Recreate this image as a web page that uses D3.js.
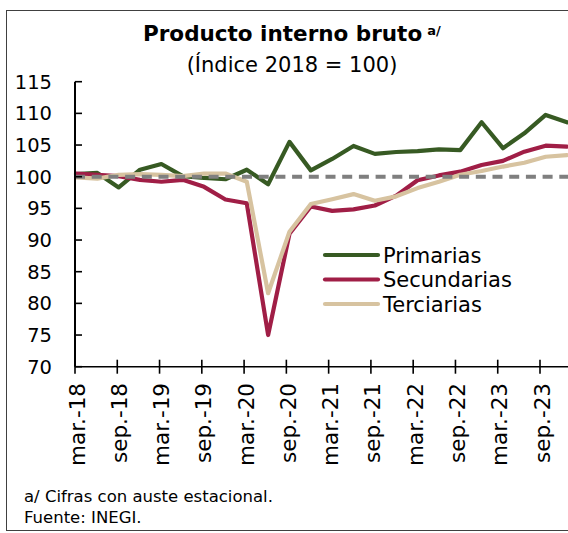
<!DOCTYPE html>
<html>
<head>
<meta charset="utf-8">
<script src="https://cdn.jsdelivr.net/npm/d3@7"></script>
<style>
  html, body { margin: 0; padding: 0; background: #fff; }
  svg { display: block; }
  text { font-family: "DejaVu Sans", sans-serif; fill: #000; }
</style>
</head>
<body>
<div id="chart"></div>
<script>
// ---- data ----
const quarters = ["mar.-18","jun.-18","sep.-18","dic.-18","mar.-19","jun.-19","sep.-19","dic.-19",
                  "mar.-20","jun.-20","sep.-20","dic.-20","mar.-21","jun.-21","sep.-21","dic.-21",
                  "mar.-22","jun.-22","sep.-22","dic.-22","mar.-23","jun.-23","sep.-23","dic.-23"];
const primarias   = [100.4,100.6,98.3,101.1,102.0,100.1,99.8,99.6,101.1,98.8,105.5,101.0,
                     102.8,104.85,103.6,103.9,104.05,104.3,104.2,108.6,104.5,106.85,109.75,108.6];
const secundarias = [100.5,100.3,100.1,99.5,99.2,99.5,98.4,96.4,95.8,75.0,91.0,95.3,
                     94.6,94.85,95.45,97.0,99.45,100.2,100.8,101.85,102.5,103.95,104.9,104.75];
const terciarias  = [99.9,99.7,100.3,100.4,100.3,100.1,100.5,100.5,99.2,81.6,91.3,95.7,
                     96.45,97.25,96.2,96.9,98.2,99.2,100.3,100.9,101.6,102.2,103.15,103.4];
const tickLabels  = ["mar.-18","sep.-18","mar.-19","sep.-19","mar.-20","sep.-20",
                     "mar.-21","sep.-21","mar.-22","sep.-22","mar.-23","sep.-23"];
const yTicks = [70,75,80,85,90,95,100,105,110,115];
const seriesNames = ["Primarias","Secundarias","Terciarias"];
const seriesColors = ["#375a23","#a01e46","#d7c3a0"];

const W = 568, H = 533;
const svg = d3.select("#chart").append("svg").attr("width", W).attr("height", H);

// frame
svg.append("rect").attr("x", 6.5).attr("y", 10.5).attr("width", 640).attr("height", 520)
  .attr("fill", "none").attr("stroke", "#404040").attr("stroke-width", 1);

// scales
const x = d3.scalePoint().domain(quarters).range([76, 567]);
const xt = d3.scalePoint().domain(tickLabels).range([75, 540]);
const y = d3.scaleLinear().domain([70, 115]).range([366.7, 81.7]);

// title
const title = svg.append("text").attr("x", 143).attr("y", 41)
  .style("font-weight", "bold").style("font-size", "21.5px");
title.append("tspan").text("Producto interno bruto");
title.append("tspan").attr("dx", 5).attr("dy", -6).style("font-size", "13px").text("a/");
svg.append("text").attr("x", 292).attr("y", 72).attr("text-anchor", "middle")
  .style("font-size", "21px").text("(Índice 2018 = 100)");

// series
const line = d3.line().x((d, i) => x(quarters[i])).y(d => y(d));
[primarias, secundarias, terciarias].forEach((s, k) => {
  svg.append("path").datum(s).attr("d", line).attr("fill", "none")
    .attr("stroke", seriesColors[k]).attr("stroke-width", 4.2)
    .attr("stroke-linejoin", "round").attr("stroke-linecap", "round");
});

// reference line at 100
svg.append("line").attr("x1", 75).attr("x2", 568).attr("y1", y(100)).attr("y2", y(100))
  .attr("stroke", "#7f7f7f").attr("stroke-width", 4).attr("stroke-dasharray", "10,6.7");

// y axis
svg.append("line").attr("x1", 75).attr("x2", 75).attr("y1", y(115)).attr("y2", y(70))
  .attr("stroke", "#000").attr("stroke-width", 2);
svg.selectAll(".ytick").data(yTicks).enter().append("line")
  .attr("x1", 75).attr("x2", 82).attr("y1", d => y(d)).attr("y2", d => y(d))
  .attr("stroke", "#000").attr("stroke-width", 1.6);
svg.selectAll(".ylab").data(yTicks).enter().append("text")
  .attr("x", 52).attr("y", d => y(d) + 7).attr("text-anchor", "end")
  .style("font-size", "19.5px").text(d => d);

// x axis
svg.append("line").attr("x1", 75).attr("x2", 568).attr("y1", y(70)).attr("y2", y(70))
  .attr("stroke", "#000").attr("stroke-width", 1.6);
svg.selectAll(".xtick").data(tickLabels).enter().append("line")
  .attr("x1", d => xt(d)).attr("x2", d => xt(d)).attr("y1", y(70) - 7).attr("y2", y(70) + 7)
  .attr("stroke", "#000").attr("stroke-width", 1.6);
svg.selectAll(".xlab").data(tickLabels).enter().append("text")
  .attr("transform", d => `translate(${xt(d) + 9.5},383) rotate(-90)`)
  .attr("text-anchor", "end").style("font-size", "21.5px").text(d => d);

// legend
const lg = svg.append("g");
seriesNames.forEach((n, k) => {
  const yy = 255 + k * 24.5;
  lg.append("line").attr("x1", 325).attr("x2", 378).attr("y1", yy).attr("y2", yy)
    .attr("stroke", seriesColors[k]).attr("stroke-width", 4.2).attr("stroke-linecap", "round");
  lg.append("text").attr("x", 383).attr("y", yy + 7.5).style("font-size", "21px").text(n);
});

// footnotes
svg.append("text").attr("x", 24).attr("y", 502).style("font-size", "16.5px")
  .text("a/ Cifras con auste estacional.");
svg.append("text").attr("x", 24).attr("y", 523).style("font-size", "16.5px")
  .text("Fuente: INEGI.");
</script>
</body>
</html>
